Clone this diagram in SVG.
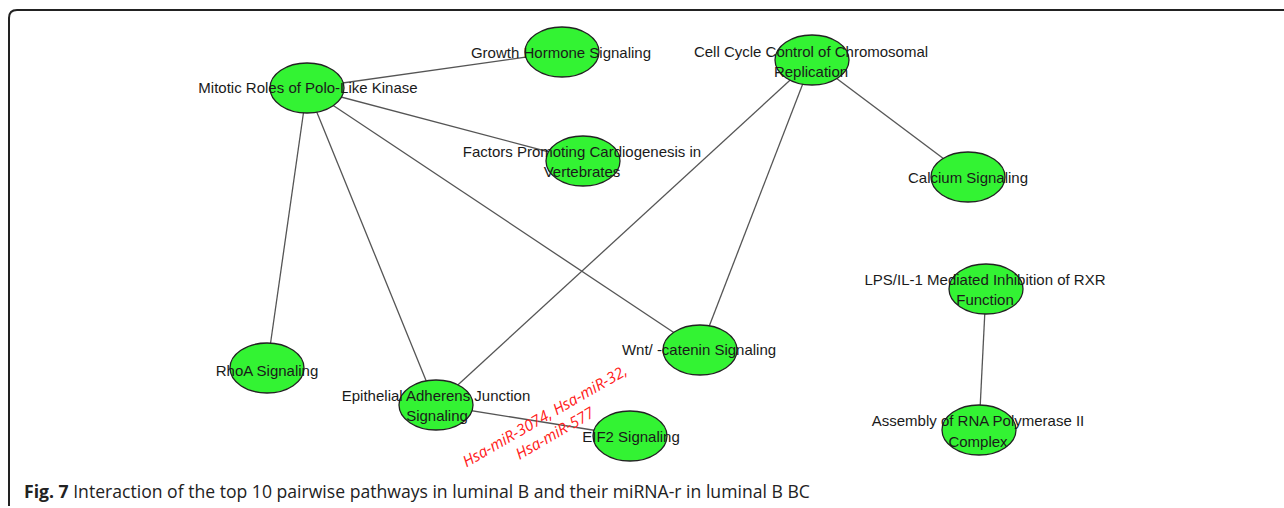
<svg xmlns="http://www.w3.org/2000/svg" width="1284" height="508" viewBox="0 0 1284 508">
<style>
.edge{stroke:#555;stroke-width:1.3;fill:none}
.node ellipse{fill:#33f333;stroke:#222;stroke-width:1.3}
.lbl{font-family:"Liberation Sans",Arial,sans-serif;font-size:15px;fill:#1a1a1a;text-anchor:middle}
.mir{font-family:"Open Sans","Liberation Sans",sans-serif;font-style:italic;font-size:15.5px;fill:#ff2020;text-anchor:middle}
.cap{font-family:"Open Sans","Liberation Sans",sans-serif;font-size:17.6px;fill:#222}
</style>
<rect width="1284" height="508" fill="#fff"/>
<path d="M1284 10 H17 Q9 10 9 18 V506" fill="none" stroke="#222" stroke-width="2"/>
<g id="connectors">
<line class="edge" x1="307" y1="88" x2="562" y2="52"/>
<line class="edge" x1="307" y1="88" x2="583" y2="161"/>
<line class="edge" x1="307" y1="88" x2="267" y2="368"/>
<line class="edge" x1="307" y1="88" x2="436" y2="405"/>
<line class="edge" x1="307" y1="88" x2="700" y2="350"/>
<line class="edge" x1="812" y1="60" x2="436" y2="405"/>
<line class="edge" x1="812" y1="60" x2="700" y2="350"/>
<line class="edge" x1="812" y1="60" x2="968" y2="177"/>
<line class="edge" x1="986" y1="289" x2="979" y2="430"/>
<line class="edge" x1="436" y1="405" x2="630" y2="436"/>
</g>
<g id="n-mitotic" class="node"><ellipse cx="307" cy="88" rx="37" ry="25"/><text class="lbl" x="308" y="93">Mitotic Roles of Polo-Like Kinase</text></g>
<g id="n-growth" class="node"><ellipse cx="562" cy="52" rx="37" ry="25"/><text class="lbl" x="561" y="58">Growth Hormone Signaling</text></g>
<g id="n-factors" class="node"><ellipse cx="583" cy="161" rx="37" ry="25"/><text class="lbl" x="582" y="157">Factors Promoting Cardiogenesis in</text><text class="lbl" x="582" y="177">Vertebrates</text></g>
<g id="n-cellcycle" class="node"><ellipse cx="812" cy="60" rx="37" ry="25"/><text class="lbl" x="811" y="57">Cell Cycle Control of Chromosomal</text><text class="lbl" x="811" y="77">Replication</text></g>
<g id="n-calcium" class="node"><ellipse cx="968" cy="177" rx="37" ry="25"/><text class="lbl" x="968" y="183">Calcium Signaling</text></g>
<g id="n-lps" class="node"><ellipse cx="986" cy="289" rx="37" ry="25"/><text class="lbl" x="985" y="285">LPS/IL-1 Mediated Inhibition of RXR</text><text class="lbl" x="985" y="305">Function</text></g>
<g id="n-assembly" class="node"><ellipse cx="979" cy="430" rx="37" ry="25"/><text class="lbl" x="978" y="426">Assembly of RNA Polymerase II</text><text class="lbl" x="978" y="447">Complex</text></g>
<g id="n-rhoa" class="node"><ellipse cx="267" cy="368" rx="37" ry="25"/><text class="lbl" x="267" y="376">RhoA Signaling</text></g>
<g id="n-epithelial" class="node"><ellipse cx="436" cy="405" rx="37" ry="25"/><text class="lbl" x="436" y="401">Epithelial Adherens  Junction</text><text class="lbl" x="437" y="421">Signaling</text></g>
<g id="n-wnt" class="node"><ellipse cx="700" cy="350" rx="37" ry="25"/><text class="lbl" x="699" y="355">Wnt/  -catenin Signaling</text></g>
<g id="n-eif2" class="node"><ellipse cx="630" cy="436" rx="37" ry="25"/><text class="lbl" x="631" y="442">EIF2 Signaling</text></g>
<g id="mirna" transform="translate(550,425) rotate(-30)">
<text class="mir" x="0" y="-5">Hsa-miR-3074, Hsa-miR-32,</text>
<text class="mir" x="0" y="15">Hsa-miR-577</text>
</g>
<text class="cap" x="24" y="498"><tspan font-weight="bold">Fig. 7</tspan> Interaction of the top 10 pairwise pathways in luminal B and their miRNA-r in luminal B BC</text>
</svg>
